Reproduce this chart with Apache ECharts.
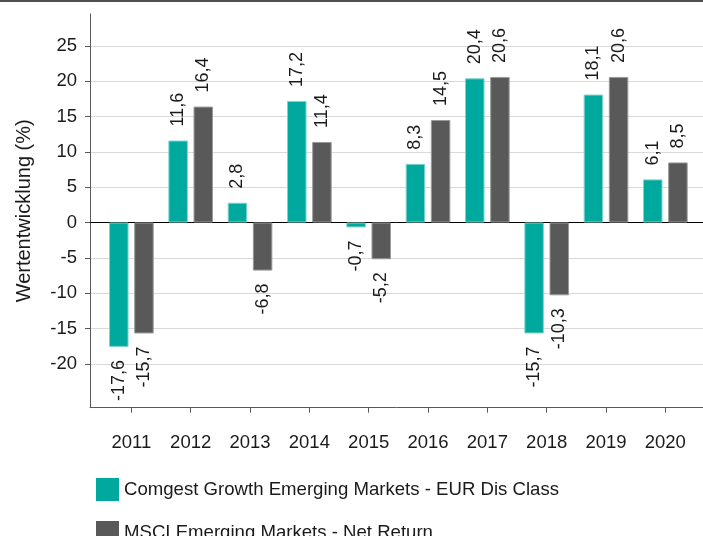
<!DOCTYPE html>
<html>
<head>
<meta charset="utf-8">
<script src="https://cdn.jsdelivr.net/npm/echarts@6/dist/echarts.min.js"></script>
<style>
    html, body { margin: 0; padding: 0; background: #fff; }
    #chart { width: 703px; height: 536px; }
</style>
</head>
<body>
<div id="chart"></div>
<script>
// data
var years = ['2011', '2012', '2013', '2014', '2015', '2016', '2017', '2018', '2019', '2020'];
var fundName = 'Comgest Growth Emerging Markets - EUR Dis Class';
var indexName = 'MSCI Emerging Markets - Net Return';
var fundValues = [-17.6, 11.6, 2.8, 17.2, -0.7, 8.3, 20.4, -15.7, 18.1, 6.1];
var indexValues = [-15.7, 16.4, -6.8, 11.4, -5.2, 14.5, 20.6, -10.3, 20.6, 8.5];
var yTicks = [-20, -15, -10, -5, 0, 5, 10, 15, 20, 25];

var yMin = -26.2;
var yMax = 29.5;
var font = 'Liberation Sans, Arial, sans-serif';
var textColor = '#1a1a1a';

function barData(values) {
    return values.map(function (v) {
        var neg = v < 0;
        return {
            value: v,
            label: {
                position: neg ? 'bottom' : 'top',
                align: neg ? 'right' : 'left',
                distance: neg ? 13 : 14
            }
        };
    });
}

function barSeries(name, values, color, border) {
    return {
        name: name,
        type: 'bar',
        xAxisIndex: 2,
        yAxisIndex: 1,
        barWidth: 19.5,
        barGap: '29%',
        itemStyle: { color: color, borderColor: border, borderWidth: 1 },
        label: {
            show: true,
            rotate: 90,
            verticalAlign: 'middle',
            fontSize: 18,
            fontFamily: font,
            color: textColor,
            formatter: function (p) {
                return String(p.value).replace('.', ',');
            }
        },
        data: barData(values)
    };
}

// one legend block per series, stacked
function legendItem(name, top) {
    return {
        left: 91,
        top: top,
        itemWidth: 23,
        itemHeight: 23,
        icon: 'rect',
        itemStyle: { borderWidth: 0 },
        textStyle: { fontSize: 18.6, color: textColor, fontFamily: font },
        data: [name]
    };
}

var chart = echarts.init(document.getElementById('chart'));

chart.setOption({
    animation: false,
    textStyle: { fontFamily: font, color: textColor },
    graphic: [{
        type: 'rect',
        shape: { x: 0, y: 0, width: 703, height: 2 },
        style: { fill: '#505050' }
    }],
    legend: [
        legendItem(fundName, 473),
        legendItem(indexName, 516)
    ],
    grid: [
        { left: 90, right: 0, top: 14, bottom: 128.3 },
        { left: 101.7, right: 8, top: 14, bottom: 128.3 }
    ],
    xAxis: [
        {
            gridIndex: 0, type: 'category', data: years,
            axisLine: { onZero: false, lineStyle: { color: '#595959' } },
            axisTick: { show: false }, axisLabel: { show: false }
        },
        {
            gridIndex: 0, type: 'category', data: years,
            axisLine: { onZero: true, lineStyle: { color: '#000' } },
            axisTick: { show: false }, axisLabel: { show: false }
        },
        {
            gridIndex: 1, type: 'category', data: years,
            axisLine: { show: false, onZero: false },
            axisTick: { show: true, alignWithLabel: true, length: 5, lineStyle: { color: '#595959' } },
            axisLabel: { margin: 26, fontSize: 18.5, color: textColor }
        }
    ],
    yAxis: [
        {
            gridIndex: 0, type: 'value', min: yMin, max: yMax,
            name: 'Wertentwicklung (%)',
            nameLocation: 'middle',
            nameGap: 56,
            nameTextStyle: { fontSize: 20, color: textColor },
            axisLine: { show: true, lineStyle: { color: '#595959' } },
            axisTick: { show: true, length: 5, customValues: yTicks, lineStyle: { color: '#595959' } },
            axisLabel: { customValues: yTicks, margin: 13, fontSize: 18.5, color: textColor },
            splitLine: { show: true, lineStyle: { color: '#d9d9d9', width: 1 } }
        },
        {
            gridIndex: 1, type: 'value', min: yMin, max: yMax, show: false,
            splitLine: { show: false }
        }
    ],
    series: [
        barSeries(fundName, fundValues, '#00a99d', '#7fd3cd'),
        barSeries(indexName, indexValues, '#595959', '#9a9a9a')
    ]
});
</script>
</body>
</html>
